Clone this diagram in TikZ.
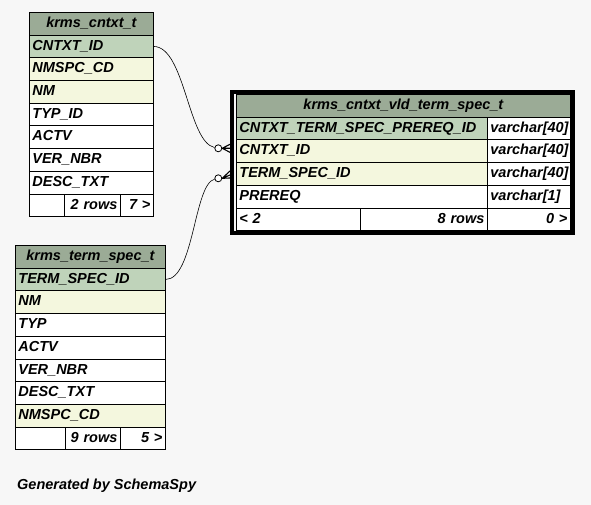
\documentclass[tikz,border=0pt]{standalone}
\usepackage{fontspec}
\newfontfamily\schemafont{Liberation Sans}
\newcommand\tabfont{\schemafont\bfseries\itshape\fontsize{14.5}{17}\selectfont}
\definecolor{bgcol}{HTML}{F7F7F7}
\definecolor{hdrgreen}{HTML}{9BAB96}
\definecolor{pkgreen}{HTML}{BFD3BA}
\definecolor{fkyellow}{HTML}{F4F7DE}
\tikzset{
  cell/.style={draw, line width=0.8pt, anchor=north west, inner xsep=3pt, inner ysep=0pt,
    minimum height=22.7pt, font=\tabfont, text height=10.5pt, text depth=3pt},
  hdr/.style={cell, fill=hdrgreen, align=center},
  pk/.style={cell, fill=pkgreen, align=left},
  fk/.style={cell, fill=fkyellow, align=left},
  col/.style={cell, fill=white, align=left},
  num/.style={cell, fill=white, align=right},
  odot/.style={circle, draw, fill=white, inner sep=0pt, minimum size=7pt, line width=0.8pt},
  crow/.style={line width=1.1pt},
  rel/.style={line width=0.6pt},
}
\begin{document}
\begin{tikzpicture}[x=1pt,y=-1pt]
\fill[bgcol] (0,0) rectangle (591,505);
\useasboundingbox (0,0) rectangle (591,505);
            % krms_cntxt_t
\node[hdr, text width=118pt] (cntxt)      at (29,12)    {krms\_cntxt\_t};
\node[pk,  text width=118pt] (cntxtId)    at (29,34.7)  {CNTXT\_ID};
\node[fk,  text width=118pt] (cNmspcCd)   at (29,57.4)  {NMSPC\_CD};
\node[fk,  text width=118pt] (cNm)        at (29,80.1)  {NM};
\node[col, text width=118pt] (cTypId)     at (29,102.8) {TYP\_ID};
\node[col, text width=118pt] (cActv)      at (29,125.5) {ACTV};
\node[col, text width=118pt] (cVerNbr)    at (29,148.2) {VER\_NBR};
\node[col, text width=118pt] (cDescTxt)   at (29,170.9) {DESC\_TXT};
\node[num, text width=29pt]  (cFoot1)     at (29,193.6) {};
\node[num, text width=50pt]  (cRows)      at (64,193.6) {2 rows};
\node[num, text width=27pt]  (cKids)      at (120,193.6) {7 >};
            % krms_term_spec_t
\node[hdr, text width=144pt] (termSpec)   at (15,245)   {krms\_term\_spec\_t};
\node[pk,  text width=144pt] (termSpecId) at (15,267.7) {TERM\_SPEC\_ID};
\node[fk,  text width=144pt] (tNm)        at (15,290.4) {NM};
\node[col, text width=144pt] (tTyp)       at (15,313.1) {TYP};
\node[col, text width=144pt] (tActv)      at (15,335.8) {ACTV};
\node[col, text width=144pt] (tVerNbr)    at (15,358.5) {VER\_NBR};
\node[col, text width=144pt] (tDescTxt)   at (15,381.2) {DESC\_TXT};
\node[fk,  text width=144pt] (tNmspcCd)   at (15,403.9) {NMSPC\_CD};
\node[num, text width=44pt]  (tFoot1)     at (15,426.6) {};
\node[num, text width=49pt]  (tRows)      at (65,426.6) {9 rows};
\node[num, text width=39pt]  (tKids)      at (120,426.6) {5 >};
            % krms_cntxt_vld_term_spec_t
\node[hdr, text width=328pt] (vld)        at (236,94)    {krms\_cntxt\_vld\_term\_spec\_t};
\node[pk,  text width=245pt] (vId)        at (236,116.7) {CNTXT\_TERM\_SPEC\_PREREQ\_ID};
\node[col, text width=77pt]  (vIdT)       at (487,116.7) {varchar[40]};
\node[fk,  text width=245pt] (vCntxtId)   at (236,139.4) {CNTXT\_ID};
\node[col, text width=77pt]  (vCntxtIdT)  at (487,139.4) {varchar[40]};
\node[fk,  text width=245pt] (vTermId)    at (236,162.1) {TERM\_SPEC\_ID};
\node[col, text width=77pt]  (vTermIdT)   at (487,162.1) {varchar[40]};
\node[col, text width=245pt] (vPrereq)    at (236,184.8) {PREREQ};
\node[col, text width=77pt]  (vPrereqT)   at (487,184.8) {varchar[1]};
\node[col, text width=118pt] (vParents)   at (236,207.5) {< 2};
\node[num, text width=121pt] (vRows)      at (360,207.5) {8 rows};
\node[num, text width=77pt]  (vKids)      at (487,207.5) {0 >};
\draw[line width=3.5pt] (232,92) rectangle (573,233);
            % Relations
\node[odot] (o1) at (218.3,148.3) {};
\node[odot] (o2) at (218.3,178.3) {};
\coordinate (f1) at (230,148.3);
\coordinate (f2) at (230,175);
\draw[rel] (cntxtId.east) .. controls (185,47) and (188,142) .. (o1);
\draw[rel] (termSpecId.east) .. controls (194,279) and (194,184) .. (o2);
\draw[crow] (o1.east) -- ([yshift=4]f1) (o1.east) -- (f1) (o1.east) -- ([yshift=-4]f1);
\draw[crow] (o2.east) -- ([yshift=4]f2) (o2.east) -- (f2) (o2.east) -- ([yshift=-3]f2);
            % Footer
\node[anchor=west, font=\tabfont, inner sep=0pt] (gen) at (17,486) {Generated by SchemaSpy};
\end{tikzpicture}
\end{document}
